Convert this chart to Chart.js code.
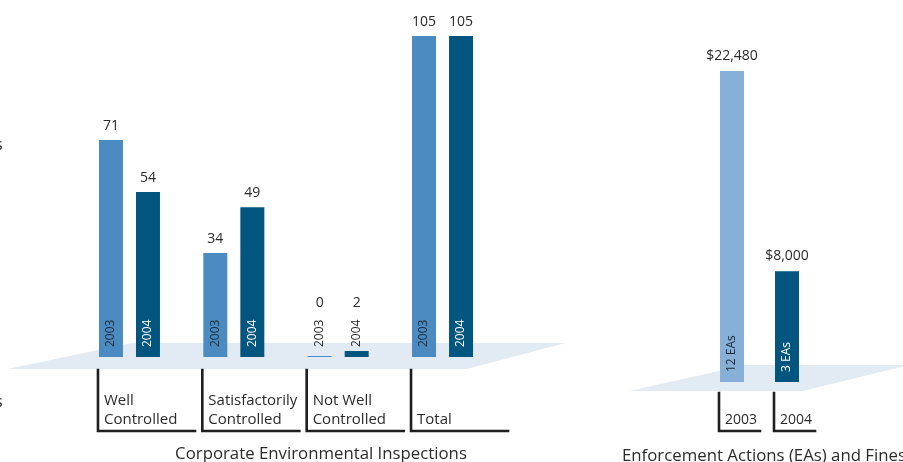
<!DOCTYPE html>
<html>
<head>
<meta charset="utf-8">
<script src="https://cdn.jsdelivr.net/npm/chart.js@4"></script>
<style>
  html, body { margin: 0; padding: 0; background: #ffffff; width: 903px; height: 462px; overflow: hidden; }
  canvas { position: absolute; top: 0; }
  #left { left: 0; }
  #right { left: 600px; }
</style>
</head>
<body>
<canvas id="left" width="600" height="462"></canvas>
<canvas id="right" width="303" height="462"></canvas>
<script>
// ---- Data ----
const inspectionCategories = [["Well", "Controlled"], ["Satisfactorily", "Controlled"], ["Not Well", "Controlled"], ["Total"]];
const inspections2003 = [71, 34, 0, 105];
const inspections2004 = [54, 49, 2, 105];
const yearLabels = ["2003", "2004"];
const inspectionsTitle = "Corporate Environmental Inspections";

const fineYears = ["2003", "2004"];
const fineAmounts = [22480, 8000];
const fineValueLabels = ["$22,480", "$8,000"];
const fineEALabels = ["12 EAs", "3 EAs"];
const finesTitle = "Enforcement Actions (EAs) and Fines";

// ---- Styles ----
const C2003 = "#4b8bc1";
const C2004 = "#02557f";
const CFINE03 = "#87b0d8";
const PLATFORM = "#e2eaf4";
const TEXT = "#2b2b2b";
const FONT = "'Open Sans', 'Noto Sans', sans-serif";

function platform(ctx, pts) {
  ctx.save();
  ctx.fillStyle = PLATFORM;
  ctx.beginPath();
  ctx.moveTo(pts[0][0], pts[0][1]);
  for (let i = 1; i < pts.length; i++) ctx.lineTo(pts[i][0], pts[i][1]);
  ctx.closePath();
  ctx.fill();
  ctx.restore();
}

function bracket(ctx, x, y0, y1, x1) {
  ctx.save();
  ctx.strokeStyle = "#1f1f1f";
  ctx.lineWidth = 2.6;
  ctx.lineCap = "square";
  ctx.beginPath();
  ctx.moveTo(x, y0);
  ctx.lineTo(x, y1);
  ctx.lineTo(x1, y1);
  ctx.stroke();
  ctx.restore();
}

// ---- Left chart ----
const leftDecor = {
  id: "leftDecor",
  beforeDatasetsDraw(chart) {
    const ctx = chart.ctx;
    const base = chart.scales.y.getPixelForValue(0);
    const a = chart.chartArea;
    platform(ctx, [[a.left - 70, base + 12], [a.left + 55, base - 14], [a.right + 71, base - 14], [a.right - 28, base + 12]]);
  },
  afterDatasetsDraw(chart) {
    const ctx = chart.ctx;
    const xs = chart.scales.x;
    const base = chart.scales.y.getPixelForValue(0);
    ctx.save();
    chart.data.datasets.forEach((ds, di) => {
      const meta = chart.getDatasetMeta(di);
      meta.data.forEach((bar, i) => {
        ctx.font = "12px " + FONT;
        const yl = yearLabels[di];
        const tw = ctx.measureText(yl).width;
        const textBottom = base - 10;
        const textTop = textBottom - tw;
        const inside = bar.y < textTop - 4;
        ctx.save();
        ctx.translate(bar.x, textBottom);
        ctx.rotate(-Math.PI / 2);
        ctx.textAlign = "left";
        ctx.textBaseline = "middle";
        ctx.fillStyle = inside ? (di === 0 ? "#1e2a36" : "#ffffff") : TEXT;
        ctx.fillText(yl, 0, 0);
        ctx.restore();
        ctx.font = "14px " + FONT;
        ctx.fillStyle = TEXT;
        ctx.textAlign = "center";
        ctx.textBaseline = "alphabetic";
        const top = Math.min(bar.y, textTop - 3);
        ctx.fillText(String(ds.data[i]), bar.x, top - 10);
      });
    });
    inspectionCategories.forEach((lines, i) => {
      const cx = xs.getPixelForValue(i);
      const x0 = cx - 31.5;
      bracket(ctx, x0, base + 13, base + 74, x0 + 97);
      ctx.font = "15px " + FONT;
      ctx.fillStyle = TEXT;
      ctx.textAlign = "left";
      ctx.textBaseline = "alphabetic";
      const lastY = base + 67;
      for (let k = 0; k < lines.length; k++) {
        ctx.fillText(lines[k], x0 + 6, lastY - (lines.length - 1 - k) * 19);
      }
    });
    ctx.font = "16.8px " + FONT;
    ctx.textAlign = "center";
    ctx.fillStyle = TEXT;
    ctx.fillText(inspectionsTitle, (xs.getPixelForValue(0) + xs.getPixelForValue(3)) / 2 + 35, base + 102);
    ctx.font = "16px " + FONT;
    ctx.textAlign = "left";
    ctx.fillText("s", -5, 150);
    ctx.fillText("s", -5, 407);
    ctx.restore();
  }
};

new Chart(document.getElementById("left"), {
  type: "bar",
  data: {
    labels: inspectionCategories,
    datasets: [
      { label: yearLabels[0], data: inspections2003, backgroundColor: C2003, minBarLength: 1 },
      { label: yearLabels[1], data: inspections2004, backgroundColor: C2004 }
    ]
  },
  options: {
    responsive: false,
    animation: false,
    devicePixelRatio: 1,
    layout: { padding: { left: 77.3, right: 105.3, top: 20.7, bottom: 105 } },
    datasets: { bar: { categoryPercentage: 0.7095, barPercentage: 0.648, borderWidth: 0 } },
    plugins: { legend: { display: false }, tooltip: { enabled: false }, title: { display: false } },
    scales: {
      x: { display: false },
      y: { display: false, min: 0, max: 110 }
    }
  },
  plugins: [leftDecor]
});

// ---- Right chart ----
const rightDecor = {
  id: "rightDecor",
  beforeDatasetsDraw(chart) {
    const ctx = chart.ctx;
    const base = chart.scales.y.getPixelForValue(0);
    const a = chart.chartArea;
    platform(ctx, [[a.left - 75, base + 9], [a.left + 41, base - 17], [a.right + 95, base - 17], [a.right - 12, base + 9]]);
  },
  afterDatasetsDraw(chart) {
    const ctx = chart.ctx;
    const base = chart.scales.y.getPixelForValue(0);
    const meta = chart.getDatasetMeta(0);
    ctx.save();
    meta.data.forEach((bar, i) => {
      ctx.save();
      ctx.font = "12px " + FONT;
      ctx.translate(bar.x, base - 10);
      ctx.rotate(-Math.PI / 2);
      ctx.textAlign = "left";
      ctx.textBaseline = "middle";
      ctx.fillStyle = i === 0 ? "#1e2a36" : "#ffffff";
      ctx.fillText(fineEALabels[i], 0, 0);
      ctx.restore();
      ctx.font = "14px " + FONT;
      ctx.fillStyle = TEXT;
      ctx.textAlign = "center";
      ctx.textBaseline = "alphabetic";
      ctx.fillText(fineValueLabels[i], bar.x, bar.y - 11);
      const x0 = bar.x - 13;
      bracket(ctx, x0, base + 11, base + 49, x0 + 41);
      ctx.font = "14px " + FONT;
      ctx.textAlign = "left";
      ctx.fillText(fineYears[i], x0 + 6, base + 42);
    });
    ctx.font = "16.8px " + FONT;
    ctx.textAlign = "left";
    ctx.fillStyle = TEXT;
    ctx.fillText(finesTitle, 22, base + 79);
    ctx.restore();
  }
};

new Chart(document.getElementById("right"), {
  type: "bar",
  data: {
    labels: fineYears,
    datasets: [
      { label: "Fines", data: fineAmounts, backgroundColor: [CFINE03, C2004] }
    ]
  },
  options: {
    responsive: false,
    animation: false,
    devicePixelRatio: 1,
    layout: { padding: { left: 104.5, right: 88.5, top: 36.1, bottom: 80 } },
    datasets: { bar: { categoryPercentage: 1, barPercentage: 0.436, borderWidth: 0 } },
    plugins: { legend: { display: false }, tooltip: { enabled: false }, title: { display: false } },
    scales: {
      x: { display: false },
      y: { display: false, min: 0, max: 25000 }
    }
  },
  plugins: [rightDecor]
});
</script>
</body>
</html>
